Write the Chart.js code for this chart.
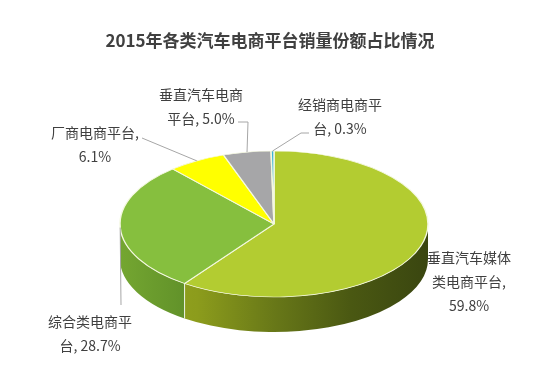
<!DOCTYPE html>
<html>
<head>
<meta charset="utf-8">
<script src="https://cdn.jsdelivr.net/npm/chart.js@4.4.1/dist/chart.umd.min.js"></script>
<style>
  html, body { margin: 0; padding: 0; background: #fff; }
  #wrap { width: 554px; height: 379px; }
</style>
</head>
<body>
<div id="wrap"><canvas id="pie" width="554" height="379"></canvas></div>
<script>
// platform types and their share of 2015 sales (%)
const categories = ['垂直汽车媒体类电商平台', '综合类电商平台', '厂商电商平台', '垂直汽车电商平台', '经销商电商平台'];
const shares = [59.8, 28.7, 6.1, 5.0, 0.3];
const titleText = '2015年各类汽车电商平台销量份额占比情况';

// colours of the top face, and of the side wall (left -> right)
const topColors = ['#b3cc31', '#86bf3e', '#ffff00', '#a6a6a8', '#3db3d9'];
const sideColors = [
  ['#97a720', '#8c9c1c', '#687818', '#4a5812', '#3a4610'],
  ['#74a631', '#5e8e28', '#5a8826', '#567f24', '#52792a'],
  ['#d8d800', '#c8c800', '#b0b000', '#999900', '#888800'],
  ['#8a8a8c', '#808082', '#707072', '#606062', '#555557'],
  ['#2c8fb0', '#2884a3', '#227390', '#1d6680', '#195a70']
];

// tilted disc the flat Chart.js pie is squashed into
const disc = { cx: 274, cy: 224, rx: 154, ry: 73, depth: 35 };

// label block position (centre of first line) and leader elbows
const labelLayout = [
  { x: 469, y: 258, leader: [] },
  { x: 90, y: 322, leader: [[121, 305]] },
  { x: 95, y: 133, leader: [[142, 138]] },
  { x: 201, y: 95, leader: [[248, 122], [238, 122]] },
  { x: 340, y: 105, leader: [[301, 133], [309, 133]] }
];
const lineHeight = 24;
const labelFont = '14px "Noto Sans CJK SC", "Noto Sans", sans-serif';

function frontPart(start, end) {
  // only the half facing the viewer (canvas angles 0..PI) shows a side wall
  const out = [];
  [0, 2 * Math.PI, -2 * Math.PI].forEach(off => {
    const a = Math.max(start, off), b = Math.min(end, off + Math.PI);
    if (b > a) out.push([a, b]);
  });
  return out;
}

function drawSides(ctx, arcs) {
  const { cx, cy, rx, ry, depth } = disc;
  arcs.forEach((arc, i) => {
    const grad = ctx.createLinearGradient(cx - rx, 0, cx + rx, 0);
    const stops = sideColors[i];
    stops.forEach((c, k) => grad.addColorStop(k / (stops.length - 1), c));
    frontPart(arc.startAngle, arc.endAngle).forEach(([a, b]) => {
      ctx.beginPath();
      ctx.ellipse(cx, cy, rx, ry, 0, a, b);
      ctx.lineTo(cx + rx * Math.cos(b), cy + ry * Math.sin(b) + depth);
      ctx.ellipse(cx, cy + depth, rx, ry, 0, b, a, true);
      ctx.closePath();
      ctx.fillStyle = grad;
      ctx.fill();
    });
  });
  // light seams where slices meet on the front
  ctx.strokeStyle = 'rgba(255,255,255,0.85)';
  ctx.lineWidth = 1;
  arcs.forEach(arc => {
    let a = arc.endAngle;
    if (a > Math.PI * 2) a -= Math.PI * 2;
    if (a > 0.02 && a < Math.PI - 0.02) {
      const x = cx + rx * Math.cos(a), y = cy + ry * Math.sin(a);
      ctx.beginPath();
      ctx.moveTo(x, y);
      ctx.lineTo(x, y + depth);
      ctx.stroke();
    }
  });
}

function wrapText(ctx, text, maxWidth) {
  const units = text.match(/[\u4e00-\u9fff][,，]?|\s*[^\s\u4e00-\u9fff]+/g);
  const lines = [];
  let line = '';
  units.forEach(u => {
    const test = line + u;
    if (line && ctx.measureText(test).width > maxWidth) {
      lines.push(line);
      line = u.trim();
    } else {
      line = test;
    }
  });
  if (line) lines.push(line);
  return lines;
}

function drawLabels(ctx, arcs) {
  const { cx, cy, rx, ry } = disc;
  ctx.save();
  ctx.font = labelFont;
  ctx.textAlign = 'center';
  ctx.textBaseline = 'middle';
  arcs.forEach((arc, i) => {
    const lay = labelLayout[i];
    // leader line from the slice edge to the label
    if (lay.leader.length) {
      const mid = (arc.startAngle + arc.endAngle) / 2;
      ctx.beginPath();
      ctx.moveTo(cx + rx * Math.cos(mid), cy + ry * Math.sin(mid));
      lay.leader.forEach(p => ctx.lineTo(p[0], p[1]));
      ctx.strokeStyle = '#a6a6a6';
      ctx.lineWidth = 1;
      ctx.stroke();
    }
    const text = categories[i] + ', ' + shares[i].toFixed(1) + '%';
    ctx.fillStyle = '#404040';
    wrapText(ctx, text, 92).forEach((l, k) => {
      ctx.fillText(l, lay.x, lay.y + k * lineHeight);
    });
  });
  ctx.restore();
}

const tiltPlugin = {
  id: 'tilt',
  beforeDatasetsDraw(chart) {
    const ctx = chart.ctx;
    const arcs = chart.getDatasetMeta(0).data;
    drawSides(ctx, arcs);
    const a = arcs[0];
    ctx.save();
    ctx.translate(disc.cx, disc.cy);
    ctx.scale(disc.rx / a.outerRadius, disc.ry / a.outerRadius);
    ctx.translate(-a.x, -a.y);
  },
  afterDatasetsDraw(chart) {
    chart.ctx.restore();
  },
  afterDraw(chart) {
    drawLabels(chart.ctx, chart.getDatasetMeta(0).data);
  }
};

new Chart(document.getElementById('pie'), {
  type: 'pie',
  data: {
    labels: categories,
    datasets: [{
      data: shares,
      backgroundColor: topColors,
      borderColor: '#f4f8e0',
      borderWidth: 1.5
    }]
  },
  options: {
    responsive: false,
    animation: false,
    devicePixelRatio: 1,
    layout: { padding: { left: 0, right: 14, bottom: 0 } },
    plugins: {
      legend: { display: false },
      tooltip: { enabled: false },
      title: {
        display: true,
        text: titleText,
        color: '#404040',
        font: { family: '"Noto Sans CJK SC", sans-serif', size: 17, weight: 'bold' },
        padding: { top: 30, bottom: 10 }
      }
    }
  },
  plugins: [tiltPlugin]
});
</script>
</body>
</html>
